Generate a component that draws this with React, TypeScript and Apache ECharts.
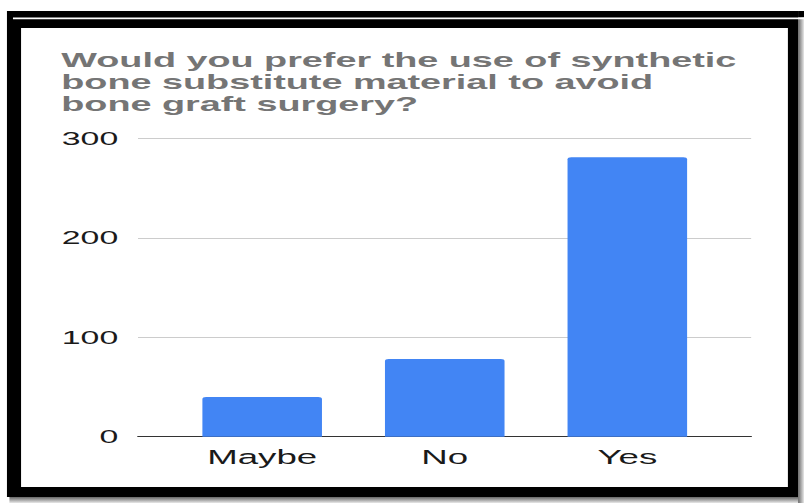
import React, { useEffect, useRef } from "react";
import * as echarts from "echarts";

const titleText = "Would you prefer the use of synthetic\nbone substitute material to avoid\nbone graft surgery?";
const categories = ["Maybe", "No", "Yes"];
const responses = [40, 78, 281];
const yMin = 0;
const yMax = 300;
const yInterval = 100;

const SX = 1.88;
const W = 804 / SX;
const H = 503;

export default function App() {
  const ref = useRef<HTMLDivElement>(null);
  useEffect(() => {
    if (!ref.current) return;
    const chart = echarts.init(ref.current, null, { renderer: "svg" });
    const font = "Arial, 'Liberation Sans', sans-serif";
    chart.setOption({
      animation: false,
      backgroundColor: "#ffffff",
      title: {
        text: titleText,
        left: 32.6,
        top: 49.5,
        padding: 0,
        textStyle: {
          fontFamily: font,
          fontSize: 20.1,
          fontWeight: "bold",
          color: "#757575",
          lineHeight: 22,
        },
      },
      graphic: [
        { type: "rect", z: -10, silent: true, shape: { x: 0, y: 0, width: W, height: H }, style: { fill: "#ffffff" } },
        { type: "rect", z: -9, silent: true, shape: { x: 3.7, y: 11, width: 424.5 - 3.7, height: 497 - 11 }, style: { fill: "#000000" } },
        { type: "rect", z: -9, silent: true, shape: { x: 424.5, y: 11, width: W - 424.5, height: 6.5 }, style: { fill: "#000000" } },
        { type: "rect", z: -9, silent: true, shape: { x: 424.5, y: 17.5, width: W - 424.5, height: H - 17.5 }, style: { fill: { type: "linear", x: 0, y: 0, x2: 1, y2: 0, colorStops: [{ offset: 0, color: "#666" }, { offset: 1, color: "#e8e8e8" }] } } },
        { type: "rect", z: -9, silent: true, shape: { x: 5, y: 497, width: 424.5 - 5, height: H - 497 }, style: { fill: { type: "linear", x: 0, y: 0, x2: 0, y2: 1, colorStops: [{ offset: 0, color: "#666" }, { offset: 1, color: "#e8e8e8" }] } } },
        { type: "rect", z: -8, silent: true, shape: { x: 6.9, y: 17.6, width: W - 6.9, height: 1.6 }, style: { fill: "#ffffff" } },
        { type: "rect", z: -7, silent: true, shape: { x: 11.2, y: 28, width: 419.1 - 11.2, height: 487 - 28 }, style: { fill: "#ffffff" } },
      ],
      grid: [
        { left: 73.4, right: W - 399.2, top: 138.3, bottom: H - 436.7 },
        { left: 90.9, right: W - 381.9, top: 138.3, bottom: H - 436.7 },
      ],
      xAxis: [
        {
          type: "category",
          gridIndex: 0,
          data: categories,
          axisLine: { show: true, lineStyle: { color: "#333333", width: 1 } },
          axisTick: { show: false },
          axisLabel: { show: false },
          splitLine: { show: false },
        },
        {
          type: "category",
          gridIndex: 1,
          data: categories,
          axisLine: { show: false },
          axisTick: { show: false },
          axisLabel: {
            show: true,
            margin: 10,
            fontFamily: font,
            fontSize: 19.5,
            color: "#1a1a1a",
          },
        },
      ],
      yAxis: [
        {
          type: "value",
          gridIndex: 0,
          min: yMin,
          max: yMax,
          interval: yInterval,
          axisLine: { show: false },
          axisTick: { show: false },
          axisLabel: {
            margin: 10.5,
            fontFamily: font,
            fontSize: 18,
            color: "#1a1a1a",
          },
          splitLine: { show: true, lineStyle: { color: "#cccccc", width: 1 } },
        },
        {
          type: "value",
          gridIndex: 1,
          min: yMin,
          max: yMax,
          interval: yInterval,
          show: false,
          splitLine: { show: false },
        },
      ],
      series: [
        {
          type: "bar",
          xAxisIndex: 1,
          yAxisIndex: 1,
          data: responses,
          barWidth: 63.6,
          itemStyle: { color: "#4285F4", borderRadius: [2, 2, 0, 0] },
          z: 3,
        },
      ],
    });
    return () => chart.dispose();
  }, []);
  return (
    <div
      ref={ref}
      style={{
        position: "absolute",
        left: 0,
        top: 0,
        width: W + "px",
        height: H + "px",
        transform: `scaleX(${SX})`,
        transformOrigin: "0 0",
      }}
    />
  );
}
